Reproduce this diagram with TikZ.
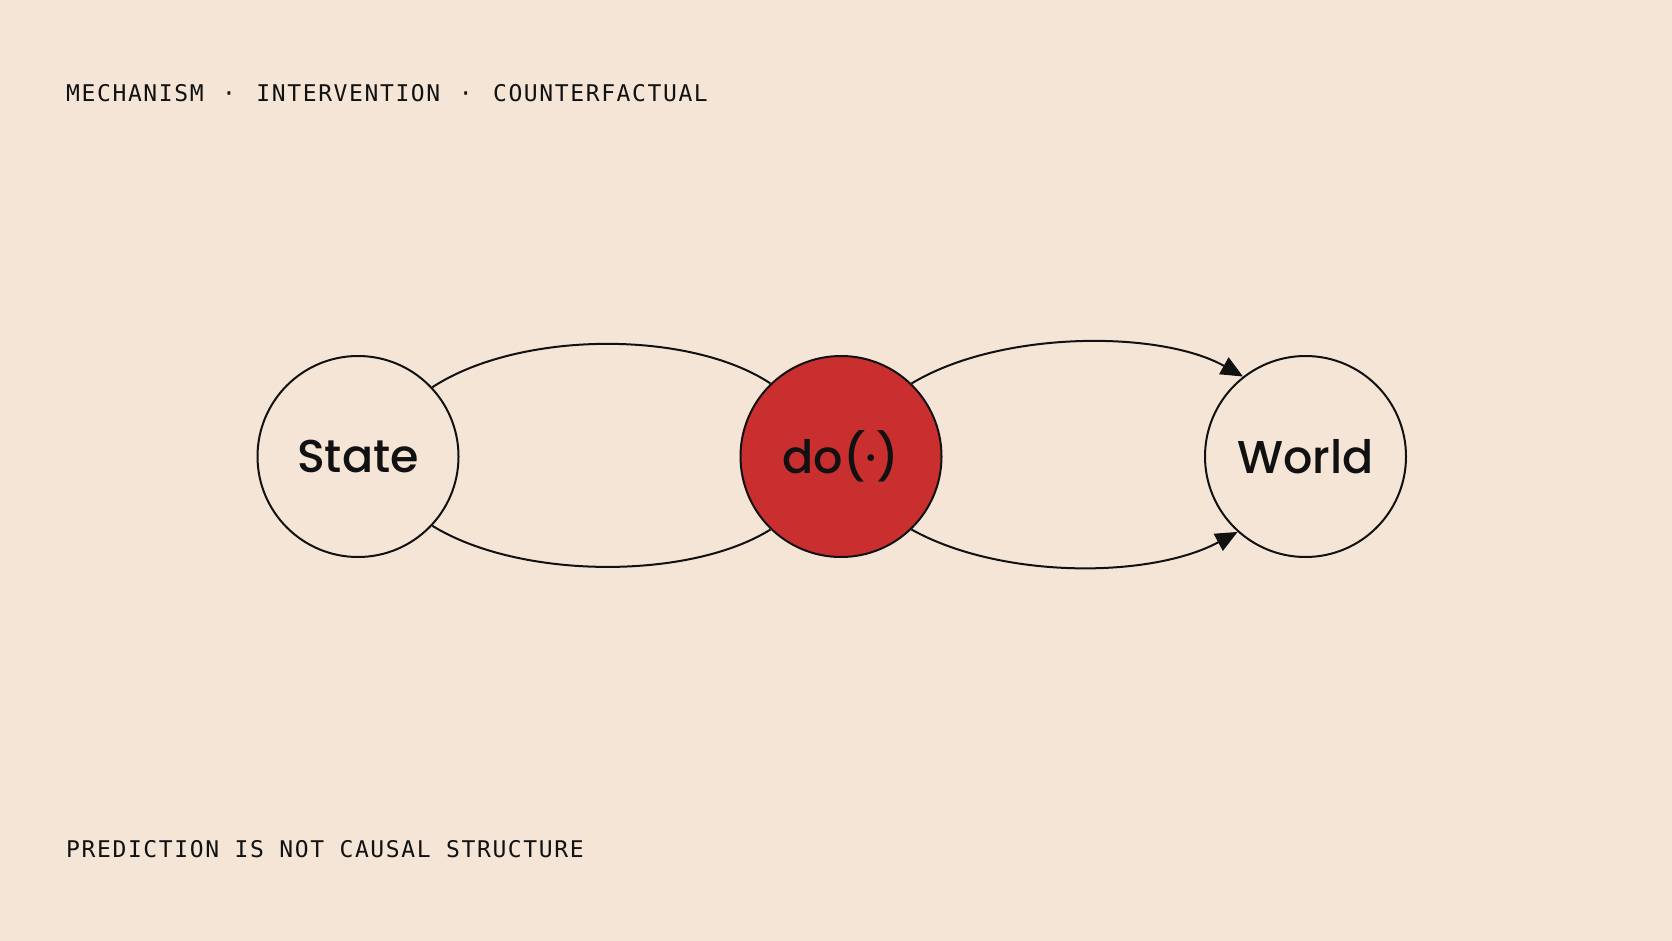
\documentclass[tikz,border=0pt]{standalone}
\usepackage{fontspec}
\setmainfont{Poppins}
\newfontfamily\monofont{DejaVu Sans Mono}[LetterSpace=7]
\newfontfamily\labfont{Poppins}[UprightFont={* Medium}]
\usetikzlibrary{arrows.meta}
\definecolor{bg}{HTML}{F4E5D7}
\definecolor{doRed}{HTML}{C82F2E}
\definecolor{ink}{HTML}{111111}
\newcommand{\sepdot}{\hspace{3pt}·\hspace{5pt}}
\tikzset{
  circ/.style={circle, draw=ink, line width=2pt, minimum size=201pt, inner sep=0pt,
    font=\labfont\fontsize{46}{54}\selectfont, text=ink},
  edge/.style={draw=ink, line width=2pt},
  arr/.style={edge, -{Triangle[length=22pt,width=19pt]}},
  caption/.style={anchor=base west, inner sep=0pt, text=ink,
    font=\monofont\fontsize{23}{28}\selectfont}
}
\begin{document}
\begin{tikzpicture}[x=1pt,y=-1pt]
\fill[bg] (0,0) rectangle (1672,941);
\useasboundingbox (0,0) rectangle (1672,941);
\node[caption] (top) at (66,102) {MECHANISM \sepdot{} INTERVENTION \sepdot{} COUNTERFACTUAL};
\node[caption] (bot) at (66,857) {PREDICTION IS NOT CAUSAL STRUCTURE};
\node[circ, fill=bg] (s) at (358,456.5) {State};
\node[circ, fill=doRed] (d) at (841,456.5) {do(·)};
\node[circ, fill=bg] (w) at (1305.5,456.5) {World};
\draw[edge] (s.43) .. controls (520,330) and (690,330) .. (d.134);
\draw[edge] (s.-43) .. controls (520,580) and (690,580) .. (d.-134);
\draw[arr] (d.46) .. controls (1000,330) and (1160,330) .. (w.128.5);
\draw[arr] (d.-46) .. controls (1000,579) and (1150,579) .. (w.-132);
\end{tikzpicture}
\end{document}
